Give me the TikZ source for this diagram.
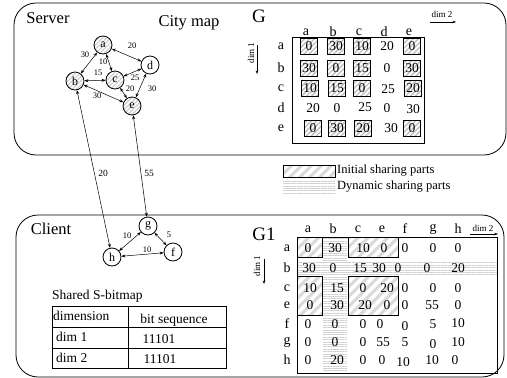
\documentclass[tikz,border=0pt]{standalone}
\usepackage{fontspec}
\setmainfont{Liberation Serif}
\usetikzlibrary{arrows.meta,patterns.meta}

\newcommand{\fs}[1]{\fontsize{#1}{#1}\selectfont}

\tikzset{
  x=1pt, y=-1pt,
  frame/.style={draw, line width=0.8pt, rounded corners=22pt},
  title/.style={font=\fs{16.5}},
  mname/.style={font=\fs{19}},
  vtx/.style={circle, draw, line width=0.8pt, minimum size=18pt, inner sep=0pt, font=\fs{12}},
  vtxsh/.style={vtx, pattern={Lines[angle=45,distance=3pt,line width=1.1pt]}, pattern color=gray!40},
  link/.style={{Stealth[length=4pt,width=3pt]}-{Stealth[length=4pt,width=3pt]}, line width=0.5pt},
  elbl/.style={font=\fs{8.5}, inner sep=0pt},
  hdr/.style={font=\fs{14}, inner sep=0pt},
  ent/.style={font=\fs{13.5}, inner sep=0pt},
  initpat/.style={pattern={Lines[angle=45,distance=7pt,line width=3pt]}, pattern color=gray!30},
  dynpat/.style={pattern={Lines[angle=0,distance=2.4pt,line width=0.9pt]}, pattern color=gray!35},
  cellbox/.style={ent, draw, line width=0.7pt, minimum width=17pt, minimum height=16pt,
    pattern={Lines[angle=45,distance=3.5pt,line width=1.4pt]}, pattern color=gray!50},
  dimlbl/.style={font=\fs{9}, inner sep=0pt},
  dimarrow/.style={-{Stealth[length=3.5pt,width=2.5pt]}, line width=0.5pt},
  legtxt/.style={font=\fs{12.5}, anchor=west, inner sep=0pt},
  tbl/.style={font=\fs{13.5}, inner sep=0pt},
}

\begin{document}
\begin{tikzpicture}
\useasboundingbox (0,0) rectangle (507,378);

% ---------- server panel ----------
\draw[frame] (14,3) rectangle (506,155);
\node[title] (server) at (48,18) {Server};
\node[title] (citymap) at (189,23) {City map};

\node[vtxsh] (a) at (103,45) {a};
\node[vtxsh] (b) at (75,81) {b};
\node[vtxsh] (c) at (115,80) {c};
\node[vtx]   (d) at (150,65) {d};
\node[vtxsh] (e) at (132,106) {e};

\draw[link] (a) -- (b);
\draw[link] (a) -- (c);
\draw[link] (a) -- (d);
\draw[link] (b) -- (c);
\draw[link] (c) -- (d);
\draw[link] (c) -- (e);
\draw[link] (b) -- (e);
\draw[link] (d) -- (e);

\node[elbl] (lab) at (85,55) {30};
\node[elbl] (lac) at (103,62) {10};
\node[elbl] (lad) at (132,46) {20};
\node[elbl] (lbc) at (98,73) {15};
\node[elbl] (lcd) at (135,78) {25};
\node[elbl] (lce) at (130,89) {20};
\node[elbl] (lbe) at (97,96) {30};
\node[elbl] (lde) at (152,89) {30};

% ---------- matrix G ----------
\node[mname] (G) at (259,16) {G};
\draw[line width=0.8pt] (292,37) rectangle (424,143);
\foreach \l/\x in {a/306,b/333,c/359,d/384,e/409}
  \node[hdr] (Gc\l) at (\x,32) {\l};
\foreach \l/\y in {a/46,b/68,c/88,d/108,e/128}
  \node[hdr] (Gr\l) at (281,\y) {\l};

\node[cellbox] (Gaa) at (309,46) {0};
\node[cellbox] (Gab) at (336,46) {30};
\node[cellbox] (Gac) at (362,46) {10};
\node[ent]     (Gad) at (387,46) {20};
\node[cellbox] (Gae) at (412,46) {0};

\node[cellbox] (Gba) at (309,68) {30};
\node[cellbox] (Gbb) at (336,68) {0};
\node[cellbox] (Gbc) at (362,68) {15};
\node[ent]     (Gbd) at (387,68) {0};
\node[cellbox] (Gbe) at (412,68) {30};

\node[cellbox] (Gca) at (310,88) {10};
\node[cellbox] (Gcb) at (337,88) {15};
\node[cellbox] (Gcc) at (362,88) {0};
\node[ent]     (Gcd) at (388,89) {25};
\node[cellbox] (Gce) at (413,88) {20};

\node[ent] (Gda) at (313,108) {20};
\node[ent] (Gdb) at (337,108) {0};
\node[ent] (Gdc) at (365,107) {25};
\node[ent] (Gdd) at (387,108) {0};
\node[ent] (Gde) at (413,109) {30};

\node[cellbox] (Gea) at (313,128) {0};
\node[cellbox] (Geb) at (337,128) {30};
\node[cellbox] (Gec) at (363,128) {20};
\node[ent]     (Ged) at (391,128) {30};
\node[cellbox] (Gee) at (412,128) {0};

\node[dimlbl] (Gdim2) at (442,14) {dim 2};
\coordinate (Gd2s) at (430,22);
\coordinate (Gd2e) at (456,22);
\draw[dimarrow] (Gd2s) -- (Gd2e);
\node[dimlbl, rotate=90] (Gdim1) at (251,53) {dim 1};
\coordinate (Gd1s) at (257,45);
\coordinate (Gd1e) at (257,74);
\draw[dimarrow] (Gd1s) -- (Gd1e);

% ---------- legend ----------
\node[draw, line width=0.7pt, initpat, minimum width=52pt, minimum height=12pt, inner sep=0pt] (leginit) at (309,171) {};
\node[legtxt] (leginittxt) at (337,171) {Initial sharing parts};
\node[dynpat, minimum width=52pt, minimum height=12pt, inner sep=0pt] (legdyn) at (309,187) {};
\node[legtxt] (legdyntxt) at (337,187) {Dynamic sharing parts};

% ---------- client panel ----------
\draw[frame] (16,215) rectangle (504,377);
\node[title] (client) at (51,229) {Client};

\node[vtx] (g) at (148,226) {g};
\node[vtx] (h) at (112,257) {h};
\node[vtx] (f) at (173,252) {f};
\draw[link] (g) -- (h);
\draw[link] (h) -- (f);
\draw[link] (g) -- (f);
\node[elbl] (lgh) at (127,236) {10};
\node[elbl] (lhf) at (147,250) {10};
\node[elbl] (lgf) at (169,235) {5};

% links between server and client graphs
\draw[link] (b) -- (h);
\draw[link] (e) -- (g);
\node[elbl, font=\fs{9.5}] (lbh) at (103,173) {20};
\node[elbl, font=\fs{9.5}] (leg) at (149,173) {55};

% ---------- shared S-bitmap ----------
\node[tbl, anchor=west] (sbtitle) at (52,296) {Shared S-bitmap};
\draw[line width=1pt] (52,306) rectangle (226,368);
\draw[line width=1pt] (128,306) -- (128,368);
\draw[line width=1pt] (52,327) -- (226,327);
\draw[line width=1pt] (52,348) -- (226,348);
\node[tbl, anchor=west] (tdim) at (53,316) {dimension};
\node[tbl] (tbits) at (174,320) {bit sequence};
\node[tbl, anchor=west] (tdimone) at (56,337) {dim 1};
\node[tbl] (tbitsone) at (159,339) {11101};
\node[tbl, anchor=west] (tdimtwo) at (56,358) {dim 2};
\node[tbl] (tbitstwo) at (160,359) {11101};

% ---------- matrix G1 ----------
\node[mname] (G1) at (264,234) {G1};
% dynamic sharing strips
\fill[dynpat] (323,237) rectangle (347,373);
\fill[dynpat] (297,262) rectangle (497,276);
% initial sharing blocks
\draw[initpat, line width=0.8pt] (297,237) rectangle (322,257);
\draw[initpat, line width=0.8pt] (348,237) rectangle (398,257);
\draw[initpat, line width=0.8pt] (297,276) rectangle (322,315);
\draw[initpat, line width=0.8pt] (348,276) rectangle (398,315);
\draw[line width=0.8pt] (297,237) rectangle (497,373);

\foreach \l/\x in {a/308,b/333,c/358,e/382,f/405,g/433,h/458}
  \node[hdr] (Hc\l) at (\x,229) {\l};
\foreach \l/\y in {a/248,b/268,c/288,e/305,f/324,g/342,h/360}
  \node[hdr] (Hr\l) at (287,\y) {\l};

\foreach \x/\v [count=\i] in {308/0,335/30,363/10,384/0,405/0,433/0,458/0}
  \node[ent] (Ha\i) at (\x,248) {\v};
\foreach \x/\v [count=\i] in {309/30,333/0,360/15,379/30,398/0,427/0,458/20}
  \node[ent] (Hb\i) at (\x,268) {\v};
\foreach \x/\v [count=\i] in {310/10,337/15,363/0,387/20,405/0,433/0,458/0}
  \node[ent] (Hc\i) at (\x,288) {\v};
\foreach \x/\v [count=\i] in {310/0,337/30,365/20,387/0,405/0,432/55,458/0}
  \node[ent] (He\i) at (\x,305) {\v};
\foreach \x/\v/\dy [count=\i] in {308/0/0,335/0/0,363/0/0,380/0/0,405/0/2,433/5/0,458/10/-1}
  \node[ent] (Hf\i) at (\x,324+\dy) {\v};
\foreach \x/\v/\dy [count=\i] in {308/0/0,335/0/0,363/0/0,383/55/0,405/5/0,433/0/2,458/10/0}
  \node[ent] (Hg\i) at (\x,342+\dy) {\v};
\foreach \x/\v/\dy [count=\i] in {308/0/0,337/20/0,363/0/0,382/0/0,403/10/2,432/10/0,455/0/0}
  \node[ent] (Hh\i) at (\x,360+\dy) {\v};

\node[dimlbl] (Hdim2) at (483,228) {dim 2};
\coordinate (Hd2s) at (470,234);
\coordinate (Hd2e) at (498,234);
\draw[dimarrow] (Hd2s) -- (Hd2e);
\node[dimlbl, rotate=90] (Hdim1) at (257,266) {dim 1};
\coordinate (Hd1s) at (264,259);
\coordinate (Hd1e) at (264,284);
\draw[dimarrow] (Hd1s) -- (Hd1e);
\end{tikzpicture}
\end{document}
